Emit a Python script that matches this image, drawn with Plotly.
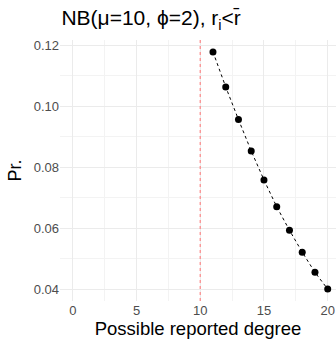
import plotly.graph_objects as go

degree = [11, 12, 13, 14, 15, 16, 17, 18, 19, 20]
prob = [0.1179, 0.1064, 0.0957, 0.0854, 0.0759, 0.0671, 0.0594, 0.0522, 0.0456, 0.0401]
ref_degree = 10
x_ticks = [0, 5, 10, 15, 20]
y_ticks = [0.04, 0.06, 0.08, 0.10, 0.12]

fig = go.Figure()
fig.add_trace(go.Scatter(
    x=degree, y=prob, mode="lines+markers",
    line=dict(color="black", width=1, dash="3px,3px"),
    marker=dict(color="black", size=7),
    showlegend=False, cliponaxis=False,
))
fig.add_vline(x=ref_degree, line=dict(color="rgba(255,120,120,0.8)", width=1.3, dash="dot"))

grid = "#ebebeb"
fig.update_layout(
    width=336, height=339,
    margin=dict(l=60, r=0, t=40, b=38, autoexpand=False),
    plot_bgcolor="white", paper_bgcolor="white",
    font=dict(family="Liberation Sans, Arial, sans-serif"),
    title=dict(text="NB(μ=10, ϕ=2), r<sub>i</sub>&lt;r̄", x=0.005, xref="paper", xanchor="left",
               y=0.947, yanchor="middle", font=dict(size=21, color="black")),
    xaxis=dict(range=[-1, 20.65], tickvals=x_ticks, showgrid=True, gridcolor=grid, gridwidth=1,
               minor=dict(tickvals=[2.5, 7.5, 12.5, 17.5], showgrid=True, gridcolor="#f3f3f3", gridwidth=0.6),
               zeroline=False, showline=False, ticks="",
               tickfont=dict(size=13, color="#4d4d4d"),
               title=dict(text="Possible reported degree", font=dict(size=18.5, color="black"), standoff=4)),
    yaxis=dict(range=[0.0362, 0.1218], tickvals=y_ticks, tickformat=".2f", showgrid=True, gridcolor=grid, gridwidth=1,
               minor=dict(tickvals=[0.05, 0.07, 0.09, 0.11], showgrid=True, gridcolor="#f3f3f3", gridwidth=0.6),
               zeroline=False, showline=False, ticks="",
               tickfont=dict(size=13, color="#4d4d4d"),
               title=dict(text="Pr.", font=dict(size=18, color="black"), standoff=7)),
)
fig.write_html("out.html", config={"displayModeBar": False},
               post_script="document.body.style.margin='0';document.body.style.overflow='hidden';")
